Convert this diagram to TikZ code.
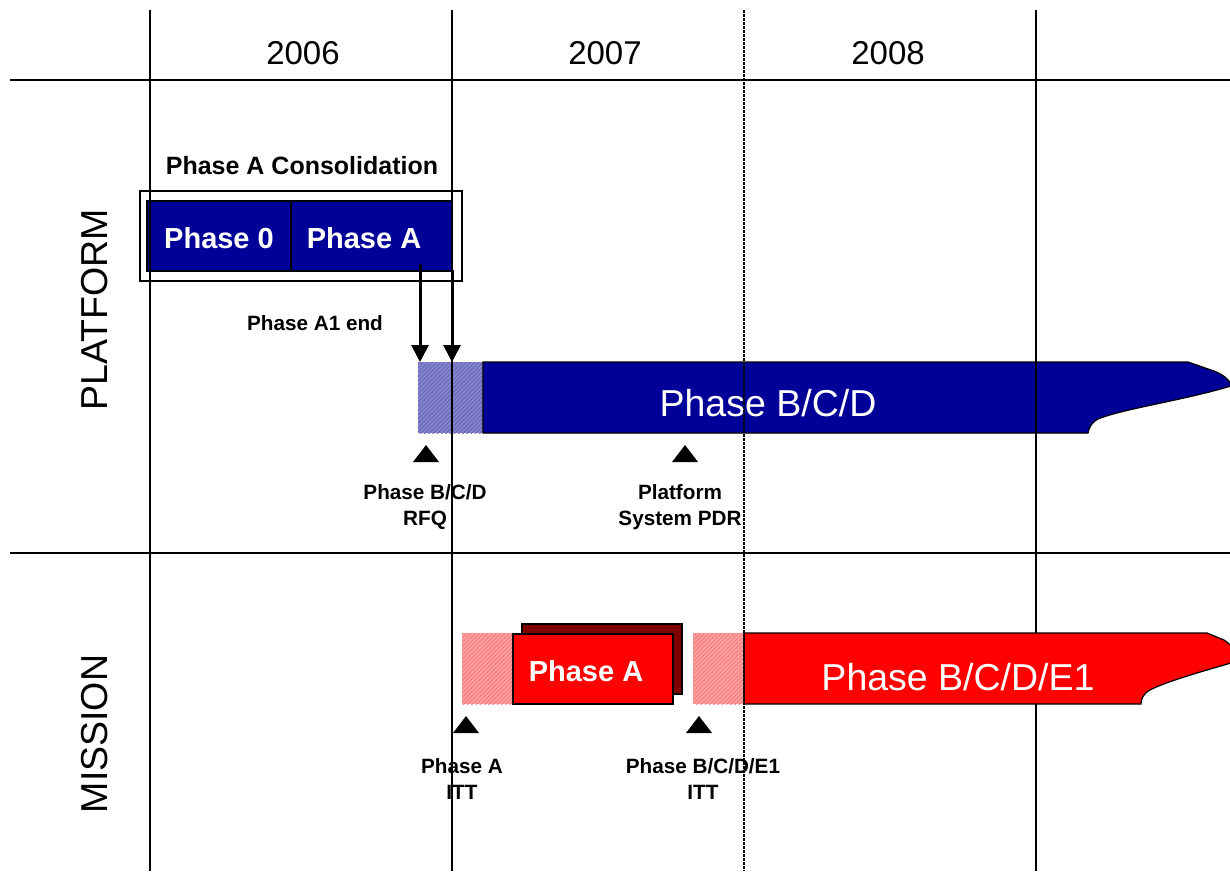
\documentclass[tikz,border=0pt]{standalone}
\usepackage{fontspec}
\setmainfont{Liberation Sans}
\usetikzlibrary{arrows.meta,patterns.meta}
\definecolor{navy}{RGB}{0,0,153}
\definecolor{navyhatch}{RGB}{132,132,204}
\definecolor{navyline}{RGB}{100,100,185}
\definecolor{brightred}{RGB}{255,0,0}
\definecolor{darkred}{RGB}{128,0,0}
\definecolor{redhatch}{RGB}{255,160,160}
\definecolor{redline}{RGB}{245,120,120}
\tikzset{
  gridline/.style={line width=1.6},
  yeartext/.style={font=\fontsize{33}{40}\selectfont},
  lanetext/.style={font=\fontsize{37.5}{44}\selectfont, rotate=90},
  bartext/.style={font=\fontsize{37.5}{44}\selectfont, text=white},
  boxtext/.style={font=\bfseries\fontsize{29}{34}\selectfont, text=white},
  smalllabel/.style={font=\bfseries\fontsize{20.7}{26}\selectfont, align=center, inner sep=0},
  bluehatch/.style={pattern={Lines[angle=45,distance=3pt,line width=0.8pt]}, pattern color=navyline},
  redhatchbox/.style={pattern={Lines[angle=45,distance=3pt,line width=0.8pt]}, pattern color=redline},
  milestone/.style={fill=black},
  downarrow/.style={line width=3, -{Triangle[length=17pt,width=17pt]}},
}
\begin{document}
\begin{tikzpicture}[x=1pt,y=-1pt]
\useasboundingbox (0,0) rectangle (1230,871);
\fill[white] (0,0) rectangle (1230,871);

% year headings and lane names
\node[yeartext] (y2006) at (303,53) {2006};
\node[yeartext] (y2007) at (605,53) {2007};
\node[yeartext] (y2008) at (888,53) {2008};
\node[lanetext] (platform) at (95,310) {PLATFORM};
\node[lanetext] (mission) at (95,734) {MISSION};

% ---- platform lane ----
\node[font=\bfseries\fontsize{25}{30}\selectfont] (cons) at (302,166) {Phase A Consolidation};
\draw[line width=1.3] (140,191) rectangle (462,281);
\fill[navy] (147,201) rectangle (452,271);
\draw[line width=1.2] (147,201) rectangle (452,271);
\draw[line width=1.2] (291,201) -- (291,271);
\node[boxtext] (ph0) at (219,238) {Phase 0};
\node[boxtext] (phA) at (364,238) {Phase A};

% hatched lead-in and main B/C/D bar
\fill[navyhatch] (418,362) rectangle (483,433);
\path[bluehatch] (418,362) rectangle (483,433);
\coordinate (bcdL) at (420,362);
\coordinate (bcdR) at (452,362);
\coordinate (phAend) at (420,264);
\coordinate (consEnd) at (452,270);
\draw[line width=1.2, fill=navy]
  (483,362) -- (1188,362) -- (1214,371)
  .. controls (1224,375) and (1230,380) .. (1231,386)
  .. controls (1185,400) and (1122,409) .. (1098,419)
  .. controls (1091,423) and (1089,428) .. (1088,433)
  -- (483,433) -- cycle;
\node[bartext] (bcd) at (768,403) {Phase B/C/D};

\draw[downarrow] (phAend) -- (bcdL);
\draw[downarrow] (consEnd) -- (bcdR);
\node[smalllabel] (a1end) at (315,323) {Phase A1 end};

\fill[milestone] (413,462) -- (439,462) -- (426,445) -- cycle;
\fill[milestone] (672,462) -- (698,462) -- (685,445) -- cycle;
\node[smalllabel] (rfq) at (425,507) {Phase B/C/D\\RFQ};
\node[smalllabel] (pdr) at (680,507) {Platform\\System PDR};

% ---- grid ----
\draw[gridline] (10,80) -- (1230,80);
\draw[gridline] (10,553) -- (1230,553);
\draw[gridline] (150,10) -- (150,871);
\draw[gridline] (452,10) -- (452,871);
\draw[gridline] (1036,10) -- (1036,871);

% ---- mission lane ----
\fill[redhatch] (462,633) rectangle (513,704);
\path[redhatchbox] (462,633) rectangle (513,704);
\fill[redhatch] (693,633) rectangle (744,704);
\path[redhatchbox] (693,633) rectangle (744,704);
\draw[line width=1.2, fill=darkred] (522,624) rectangle (682,694);
\draw[line width=1.2, fill=brightred] (513,634) rectangle (673,704);
\node[boxtext] (mphA) at (586,671) {Phase A};
\draw[line width=1.2, fill=brightred]
  (744,633) -- (1207,633) -- (1224,640)
  .. controls (1229,643) and (1231,646) .. (1232,648)
  -- (1231,663)
  .. controls (1200,672) and (1165,682) .. (1150,690)
  .. controls (1143,694) and (1141,699) .. (1141,704)
  -- (744,704) -- cycle;
\node[bartext] (bcde) at (958,677) {Phase B/C/D/E1};

\fill[milestone] (453,733) -- (479,733) -- (466,716) -- cycle;
\fill[milestone] (686,733) -- (712,733) -- (699,716) -- cycle;
\node[smalllabel] (itta) at (462,779) {Phase A\\ITT};
\node[smalllabel] (ittb) at (703,779) {Phase B/C/D/E1\\ITT};

% year boundary 2007/2008, dotted
\draw[line width=2.4, dash pattern=on 3 off 1] (744,10) -- (744,871);
\end{tikzpicture}
\end{document}
